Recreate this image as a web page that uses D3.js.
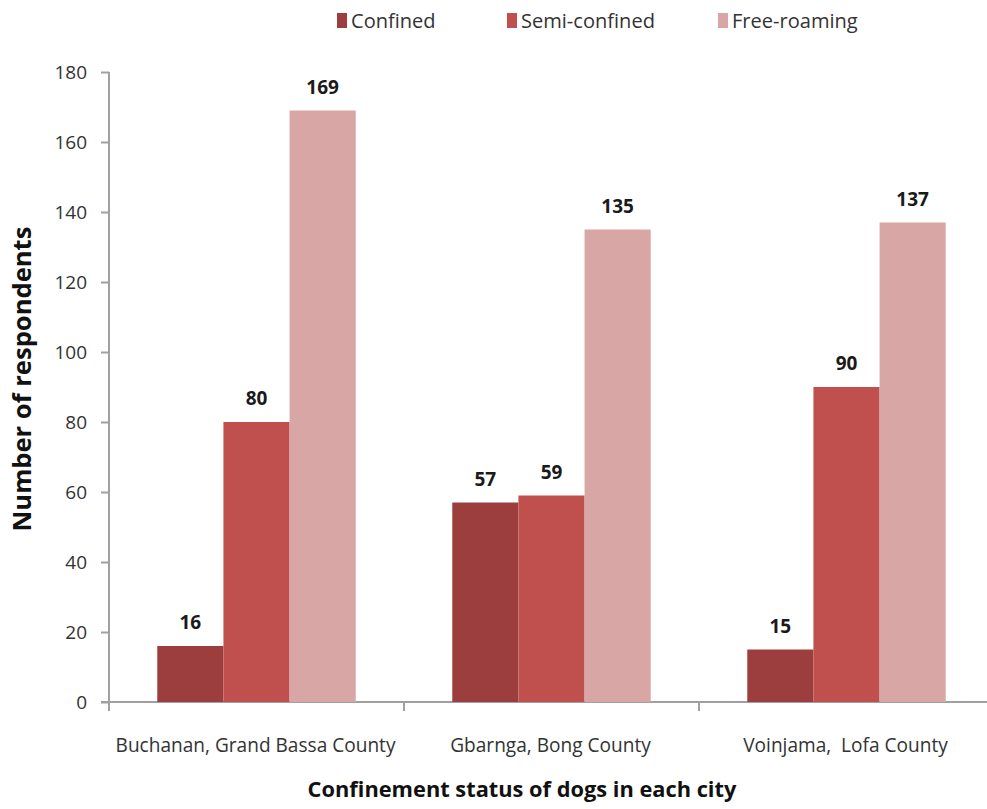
<!DOCTYPE html>
<html><head><meta charset="utf-8">
<script src="https://cdn.jsdelivr.net/npm/d3@7"></script>
<style>body{margin:0;background:#fff;} svg{display:block;}</style>
</head><body>
<script>
const categories = ["Buchanan, Grand Bassa County", "Gbarnga, Bong County", "Voinjama,  Lofa County"];
const seriesNames = ["Confined", "Semi-confined", "Free-roaming"];
const confined = [16, 57, 15];
const semiConfined = [80, 59, 90];
const freeRoaming = [169, 135, 137];
const yTicks = [0, 20, 40, 60, 80, 100, 120, 140, 160, 180];
const colors = ["#9b3e3d", "#c0504d", "#d9a6a6"];

const W = 987, H = 809;
const font = "'Open Sans', Lato, sans-serif";
const svg = d3.select("body").append("svg").attr("width", W).attr("height", H);

// scale font-size so the text spans a target width
function fitWidth(sel, target) {
  const n = sel.node();
  const fs = parseFloat(sel.attr("font-size"));
  const w = n.getComputedTextLength();
  if (w > 0) sel.attr("font-size", (fs * target / w).toFixed(2));
  return sel;
}

const x0 = 109, x1 = 994, yTop = 72, yBot = 702;
const x = d3.scaleBand().domain(categories).range([x0, x1]).paddingInner(0).paddingOuter(0);
const xs = d3.scaleBand().domain(seriesNames).range([0, x.bandwidth()]).paddingOuter(0.73).paddingInner(0);
const y = d3.scaleLinear().domain([0, 180]).range([yBot, yTop]);

const series = [confined, semiConfined, freeRoaming];

// axes
const yAxis = svg.append("g").attr("transform", `translate(${x0},0)`)
  .call(d3.axisLeft(y).tickValues(yTicks).tickSize(8).tickPadding(14));
yAxis.select(".domain").attr("stroke", "#a0a0a0").attr("stroke-width", 2).attr("d", `M0,${yTop}V${yBot+9}`);
yAxis.selectAll(".tick line").attr("stroke", "#a0a0a0").attr("stroke-width", 2);
yAxis.selectAll(".tick text").attr("font-family", font).attr("font-size", 19).attr("fill", "#333");

const xAxis = svg.append("g").attr("transform", `translate(0,${yBot})`);
xAxis.append("line").attr("x1", x0 - 8).attr("x2", W).attr("y1", 0).attr("y2", 0).attr("stroke", "#a0a0a0").attr("stroke-width", 2);
const boundaries = categories.slice(1).map(c => x(c));
xAxis.selectAll("line.tk").data(boundaries).enter().append("line").attr("class", "tk")
  .attr("x1", d => d).attr("x2", d => d).attr("y1", 0).attr("y2", 9).attr("stroke", "#a0a0a0").attr("stroke-width", 2);
const catText = xAxis.selectAll("text").data(categories).enter().append("text")
  .attr("x", d => x(d) + x.bandwidth() / 2 - 1).attr("y", 50)
  .attr("text-anchor", "middle").attr("font-family", font).attr("font-size", 16).attr("fill", "#333")
  .style("white-space", "pre").text(d => d);
fitWidth(d3.select(catText.nodes()[0]), 280);
catText.attr("font-size", d3.select(catText.nodes()[0]).attr("font-size"));

// bars
seriesNames.forEach((s, i) => {
  const g = svg.append("g");
  g.selectAll("rect").data(series[i]).enter().append("rect")
    .attr("x", (d, j) => x(categories[j]) + xs(s))
    .attr("width", xs.bandwidth())
    .attr("y", d => y(d))
    .attr("height", d => yBot - y(d))
    .attr("fill", colors[i]);
  g.selectAll("text").data(series[i]).enter().append("text")
    .attr("x", (d, j) => x(categories[j]) + xs(s) + xs.bandwidth() / 2)
    .attr("y", d => y(d) - 17)
    .attr("text-anchor", "middle").attr("font-family", font).attr("font-weight", "bold")
    .attr("font-size", 19).attr("fill", "#1a1a1a").text(d => d);
});

// legend
const legendX = [337, 507, 718];
const legTexts = [];
seriesNames.forEach((s, i) => {
  svg.append("rect").attr("x", legendX[i]).attr("y", 13).attr("width", 10).attr("height", 15).attr("fill", colors[i]);
  legTexts.push(svg.append("text").attr("x", legendX[i] + 14).attr("y", 28).attr("font-family", font)
    .attr("font-size", 17).attr("fill", "#333").text(s));
});
fitWidth(legTexts[1], 134);
legTexts.forEach(t => t.attr("font-size", legTexts[1].attr("font-size")));

// axis titles
const yt = svg.append("text").attr("transform", `translate(31,379) rotate(-90)`).attr("text-anchor", "middle")
  .attr("font-family", font).attr("font-weight", "bold").attr("font-size", 21).attr("fill", "#111")
  .text("Number of respondents");
fitWidth(yt, 305);
const xt = svg.append("text").attr("x", 522).attr("y", 797).attr("text-anchor", "middle")
  .attr("font-family", font).attr("font-weight", "bold").attr("font-size", 21).attr("fill", "#111")
  .text("Confinement status of dogs in each city");
fitWidth(xt, 429);
</script>
</body></html>
